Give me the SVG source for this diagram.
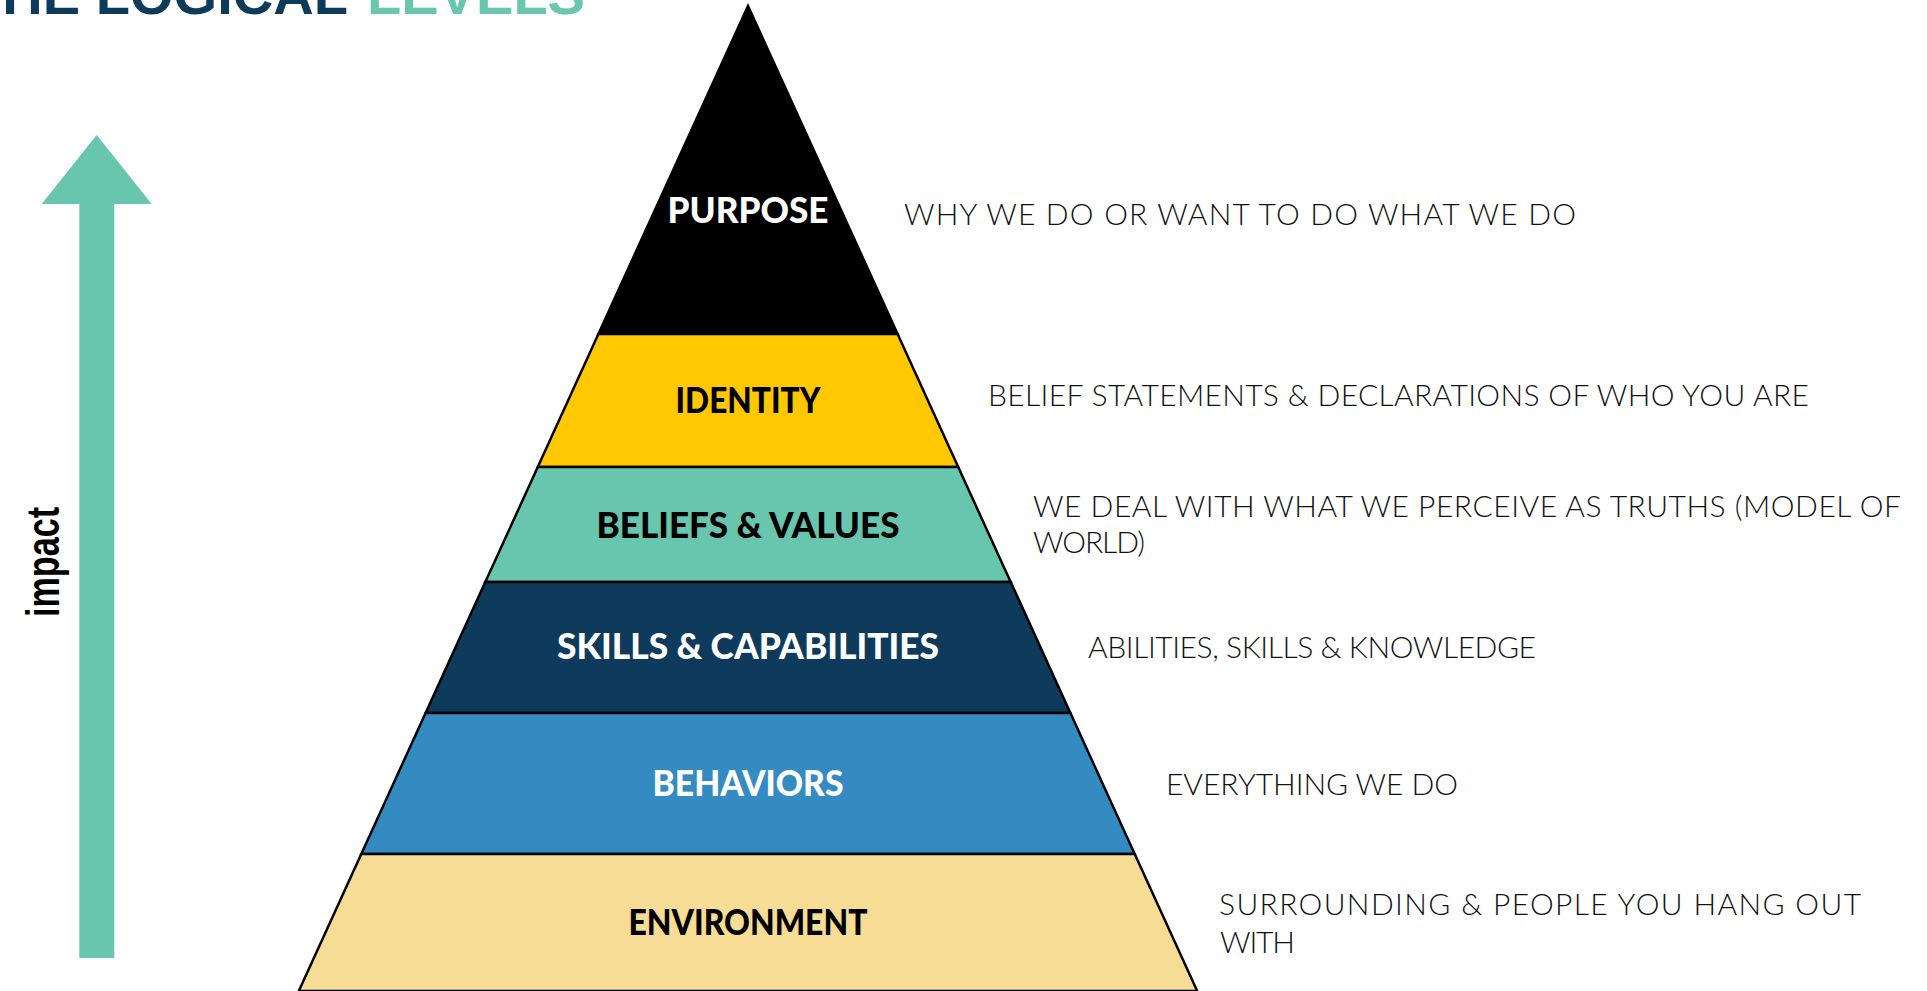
<svg xmlns="http://www.w3.org/2000/svg" width="1927" height="991" viewBox="0 0 1927 991">
<style>
.band{stroke:#000;stroke-width:2.5;stroke-linejoin:miter}
.lbl{font-family:Lato,"Open Sans","Liberation Sans",sans-serif;font-weight:900;font-size:36px;text-anchor:middle}
.desc{font-family:Lato,"Liberation Sans",sans-serif;font-weight:300;font-size:30px;fill:#111}
.title{font-family:"Liberation Sans",sans-serif;font-weight:bold;font-size:56px}
</style>
<rect width="1927" height="991" fill="#fff"/>
<g id="title">
<text class="title" x="-32" y="14" fill="#0E3A5C" textLength="380" lengthAdjust="spacingAndGlyphs">THE LOGICAL</text>
<text class="title" x="367" y="14" fill="#6AC7AF" textLength="218" lengthAdjust="spacingAndGlyphs">LEVELS</text>
</g>
<g id="impact-arrow">
<polygon points="96.7,135 151.7,204 114.3,204 114.3,958 79.3,958 79.3,204 41.7,204" fill="#69C6AE"/>
<text x="0" y="0" transform="translate(59,562) rotate(-90)" font-family="'Liberation Sans',sans-serif" font-weight="bold" font-size="46" text-anchor="middle" textLength="110" lengthAdjust="spacingAndGlyphs" fill="#000">impact</text>
</g>
<g id="purpose">
<polygon class="band" points="748,6 897.6,334 598.4,334" fill="#000"/>
<text class="lbl" x="748" y="223" fill="#fff" textLength="161" lengthAdjust="spacingAndGlyphs">PURPOSE</text>
<text class="desc" x="904" y="225" textLength="672">WHY WE DO OR WANT TO DO WHAT WE DO</text>
</g>
<g id="identity">
<polygon class="band" points="598.4,334 897.6,334 958.2,467 537.8,467" fill="#FFC800"/>
<text class="lbl" x="748" y="413" fill="#000" textLength="145" lengthAdjust="spacingAndGlyphs">IDENTITY</text>
<text class="desc" x="988" y="406" textLength="821">BELIEF STATEMENTS &amp; DECLARATIONS OF WHO YOU ARE</text>
</g>
<g id="beliefs">
<polygon class="band" points="537.8,467 958.2,467 1010.7,582 485.3,582" fill="#69C6AE"/>
<text class="lbl" x="748" y="538" fill="#000" textLength="303" lengthAdjust="spacingAndGlyphs">BELIEFS &amp; VALUES</text>
<text class="desc" x="1033" y="517" textLength="868">WE DEAL WITH WHAT WE PERCEIVE AS TRUTHS (MODEL OF</text>
<text class="desc" x="1033" y="553" textLength="112">WORLD)</text>
</g>
<g id="skills">
<polygon class="band" points="485.3,582 1010.7,582 1070.4,713 425.6,713" fill="#0E3A5C"/>
<text class="lbl" x="748" y="659" fill="#fff" textLength="382" lengthAdjust="spacingAndGlyphs">SKILLS &amp; CAPABILITIES</text>
<text class="desc" x="1088" y="658" textLength="448">ABILITIES, SKILLS &amp; KNOWLEDGE</text>
</g>
<g id="behaviors">
<polygon class="band" points="425.6,713 1070.4,713 1134.7,854 361.3,854" fill="#348BC2"/>
<text class="lbl" x="748" y="796" fill="#fff" textLength="191" lengthAdjust="spacingAndGlyphs">BEHAVIORS</text>
<text class="desc" x="1166" y="795" textLength="292">EVERYTHING WE DO</text>
</g>
<g id="environment">
<polygon class="band" points="361.3,854 1134.7,854 1197.2,991 298.8,991" fill="#F6DC95"/>
<text class="lbl" x="748" y="935" fill="#000" textLength="239" lengthAdjust="spacingAndGlyphs">ENVIRONMENT</text>
<text class="desc" x="1219" y="915" textLength="642">SURROUNDING &amp; PEOPLE YOU HANG OUT</text>
<text class="desc" x="1220" y="953" textLength="75">WITH</text>
</g>
<g id="connectors"></g>
</svg>
